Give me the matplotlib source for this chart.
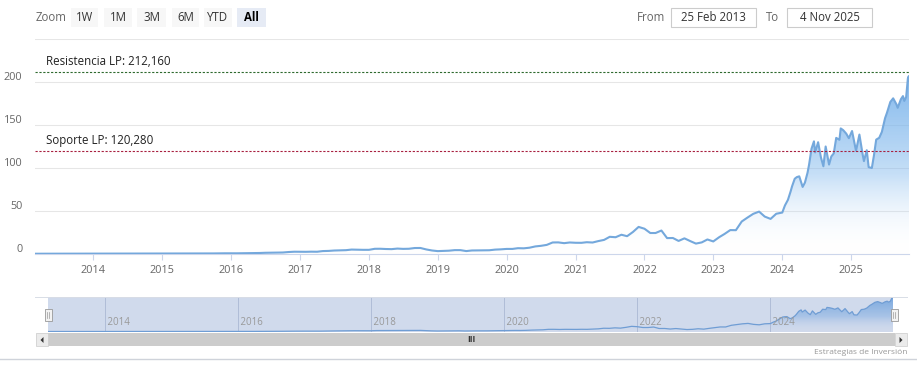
import numpy as np
import pandas as pd
import matplotlib
matplotlib.use("Agg")
import matplotlib.pyplot as plt
import matplotlib.dates as mdates
from matplotlib.colors import LinearSegmentedColormap
from matplotlib.patches import Rectangle, Polygon
from matplotlib.lines import Line2D

plt.rcParams['font.family'] = ['Open Sans', 'DejaVu Sans']

# ---- datos (cotización ajustada) ----
inicio = "2013-02-25"
fin = "2025-11-04"
precio_inicio = 0.30

# valores a primero de mes, mar-2013 .. dic-2023
precios_mensuales = [
    0.31, 0.32, 0.34, 0.35, 0.34, 0.35, 0.37, 0.38, 0.39, 0.40,                 # 2013
    0.40, 0.45, 0.44, 0.46, 0.46, 0.47, 0.45, 0.47, 0.46, 0.47, 0.49, 0.50,     # 2014
    0.50, 0.52, 0.53, 0.51, 0.54, 0.50, 0.48, 0.53, 0.60, 0.66, 0.78, 0.82,     # 2015
    0.75, 0.80, 0.88, 0.90, 1.15, 1.18, 1.42, 1.53, 1.70, 1.74, 2.30, 2.65,     # 2016
    2.60, 2.55, 2.70, 2.62, 3.40, 3.60, 4.05, 4.20, 4.45, 5.15, 5.00, 4.85,     # 2017
    4.85, 6.05, 6.10, 5.80, 5.65, 6.30, 5.95, 6.10, 6.95, 7.00, 5.30, 4.10,     # 2018
    3.35, 3.60, 3.85, 4.50, 4.50, 3.40, 4.10, 4.20, 4.20, 4.35, 5.10, 5.40,     # 2019
    5.90, 5.90, 6.75, 6.60, 7.30, 8.80, 9.50, 10.6, 13.4, 13.5, 12.6, 13.4,     # 2020
    13.05, 13.0, 13.7, 13.35, 15.0, 16.4, 20.0, 19.5, 22.4, 20.7, 25.6, 31.5,   # 2021
    29.4, 24.4, 24.4, 27.3, 18.5, 18.6, 15.2, 18.2, 15.0, 12.1, 13.5, 16.9,     # 2022
    14.6, 19.5, 23.2, 27.8, 27.7, 37.8, 42.3, 46.7, 49.3, 43.5, 40.8, 46.8,     # 2023
]
meses = pd.date_range("2013-03-01", "2023-12-01", freq="MS")

fechas_recientes = [
    "2024-01-02", "2024-01-16", "2024-02-01", "2024-02-15", "2024-02-23", "2024-03-08",
    "2024-03-19", "2024-04-01", "2024-04-19", "2024-05-01", "2024-05-15", "2024-05-23",
    "2024-06-05", "2024-06-18", "2024-06-24", "2024-07-10", "2024-07-25", "2024-08-07",
    "2024-08-19", "2024-09-06", "2024-09-18", "2024-10-01", "2024-10-14", "2024-10-31",
    "2024-11-07", "2024-11-20", "2024-12-06", "2024-12-20", "2025-01-06", "2025-01-27",
    "2025-02-14", "2025-03-03", "2025-03-10", "2025-03-25", "2025-04-04", "2025-04-21",
    "2025-05-02", "2025-05-14", "2025-05-30", "2025-06-13", "2025-06-30", "2025-07-10",
    "2025-07-28", "2025-08-12", "2025-08-29", "2025-09-05", "2025-09-22", "2025-10-03",
    "2025-10-10", "2025-10-20", "2025-10-29", "2025-11-03", "2025-11-04",
]
precios_recientes = [
    48.2, 56.4, 63.0, 72.6, 78.8, 87.5,
    89.4, 90.3, 78.0, 83.0, 94.6, 103.8,
    122.4, 131.0, 118.1, 130.0, 112.3, 102.0,
    125.0, 104.0, 113.4, 117.0, 135.0, 132.8,
    146.0, 144.0, 140.0, 134.7, 143.0, 120.0,
    138.9, 116.0, 108.0, 120.7, 101.0, 100.0,
    114.5, 133.0, 135.1, 141.9, 157.9, 164.1,
    176.8, 181.0, 174.2, 170.0, 180.0, 183.6,
    178.0, 182.6, 204.0, 206.9, 202.0,
]

resistencia = 212.160
soporte = 120.280
anios_eje = list(range(2014, 2026))
anios_navegador = [2014, 2016, 2018, 2020, 2022, 2024]
ticks_y = [0, 50, 100, 150, 200, 250]
botones = ["1W", "1M", "3M", "6M", "YTD", "All"]
desde_txt = "25 Feb 2013"
hasta_txt = "4 Nov 2025"

fechas = pd.to_datetime([inicio] + list(meses) + fechas_recientes)
precios = np.array([precio_inicio] + precios_mensuales + precios_recientes)
x = mdates.date2num(fechas)

W, H = 917, 374
fig = plt.figure(figsize=(W / 100, H / 100), dpi=100)


def caja(x0, y0, x1, y1):
    # pixeles (origen arriba-izquierda) -> fracción de figura
    return [x0 / W, 1 - y1 / H, (x1 - x0) / W, (y1 - y0) / H]


def fx(px):
    return px / W


def fy(py):
    return 1 - py / H


azul_borde = "#74a8dc"
cmap = LinearSegmentedColormap.from_list(
    "grad", [(0.0, (1, 1, 1, 0.0)),
             (0.45, (0.50, 0.72, 0.93, 0.45)),
             (1.0, (0.47, 0.70, 0.92, 0.92))])


def area_degradada(ax, xs, ys, base, tope):
    poly = ax.fill_between(xs, ys, base, facecolor="none", edgecolor="none")
    grad = np.linspace(0, 1, 256).reshape(-1, 1)
    im = ax.imshow(grad, cmap=cmap, aspect="auto", origin="lower",
                   extent=[xs[0], xs[-1], base, tope], zorder=1)
    im.set_clip_path(poly.get_paths()[0], transform=ax.transData)
    return im


# ---- gráfico principal ----
ax = fig.add_axes(caja(35, 39, 909, 254))
x0, x1 = mdates.date2num(pd.to_datetime(inicio)), mdates.date2num(pd.to_datetime(fin))
ax.set_xlim(x0, x1)
ax.set_ylim(0, 250)
area_degradada(ax, x, precios, 0, precios.max())
ax.plot(x, precios, color=azul_borde, lw=1.5, zorder=3, solid_joinstyle="round")

for s in ["top", "right", "left"]:
    ax.spines[s].set_visible(False)
ax.spines["bottom"].set_color("#ccd6eb")
ax.set_yticks(ticks_y)
ax.set_yticklabels([])
ax.tick_params(axis="y", length=0)
ax.grid(axis="y", color="#e6e6e6", lw=0.75)
ax.set_axisbelow(True)
for v in ticks_y[:-1]:
    ax.annotate(str(v), xy=(0, v), xycoords=("axes fraction", "data"),
                xytext=(-9, 3.5), textcoords="offset points",
                ha="right", va="center", fontsize=7.8, color="#666666")

ax.set_xticks([mdates.date2num(pd.Timestamp(f"{a}-01-01")) for a in anios_eje])
ax.set_xticklabels([str(a) for a in anios_eje], fontsize=7.8, color="#666666")
ax.tick_params(axis="x", length=4, color="#ccd6eb", pad=4)

ax.axhline(resistencia, color="#2e6a2e", lw=0.8, ls=(0, (2, 1.5)), zorder=4)
ax.axhline(soporte, color="#a8203f", lw=0.8, ls=(0, (2, 1.5)), zorder=4)
ax.annotate(f"Resistencia LP: {resistencia:,.3f}".replace(".", ","),
            xy=(0, resistencia), xycoords=("axes fraction", "data"),
            xytext=(8, 2.5), textcoords="offset points",
            fontsize=8.3, color="#222222", va="bottom")
ax.annotate(f"Soporte LP: {soporte:,.3f}".replace(".", ","),
            xy=(0, soporte), xycoords=("axes fraction", "data"),
            xytext=(8, 2.5), textcoords="offset points",
            fontsize=8.3, color="#222222", va="bottom")

# ---- navegador ----
nav = fig.add_axes(caja(48, 297, 893, 332))
nav.set_xlim(x0, x1)
nav.set_ylim(precios.min() - 3, precios.max() + 2)
nav.set_facecolor("none")
area_degradada(nav, x, precios, precios.min() - 3, precios.max())
nav.plot(x, precios, color=azul_borde, lw=0.9, zorder=3)
nav.axvspan(x0, x1, color=(0.4, 0.52, 0.76), alpha=0.3, lw=0, zorder=4)
for a in anios_navegador:
    xa = mdates.date2num(pd.Timestamp(f"{a}-01-01"))
    nav.axvline(xa, color="#c9cfdc", lw=0.6, zorder=2)
    nav.text(xa, 0.12, f" {a}", transform=nav.get_xaxis_transform(),
             fontsize=7, color="#999999", ha="left", va="bottom", zorder=5)
nav.set_xticks([])
nav.set_yticks([])
for s in nav.spines.values():
    s.set_visible(False)

fig.add_artist(Line2D([fx(35), fx(907)], [fy(297), fy(297)], color="#d8dde6", lw=0.7))
# asas
for hx in (48, 894):
    fig.add_artist(Rectangle((fx(hx - 3), fy(321)), 7 / W, 12 / H,
                             facecolor="#f2f2f2", edgecolor="#999999", lw=0.6))
    fig.add_artist(Line2D([fx(hx - 0.8)] * 2, [fy(318), fy(312)], color="#999999", lw=0.5))
    fig.add_artist(Line2D([fx(hx + 1.2)] * 2, [fy(318), fy(312)], color="#999999", lw=0.5))

# barra de desplazamiento
fig.add_artist(Rectangle((fx(36), fy(346)), 871 / W, 13 / H,
                         facecolor="#f2f2f2", edgecolor="none"))
fig.add_artist(Rectangle((fx(48), fy(346)), 847 / W, 13 / H,
                         facecolor="#cccccc", edgecolor="none"))
for bx, d in ((36, -1), (895, 1)):
    fig.add_artist(Rectangle((fx(bx), fy(346)), 12 / W, 13 / H,
                             facecolor="#ebebeb", edgecolor="#cccccc", lw=0.5))
    cx = bx + 6
    fig.add_artist(Polygon([(fx(cx - 1.5 * d), fy(337)), (fx(cx - 1.5 * d), fy(343)),
                            (fx(cx + 1.5 * d), fy(340))], closed=True,
                           facecolor="#333333", edgecolor="none"))
fig.text(fx(471), fy(339.5), "III", fontsize=6, color="#333333",
         ha="center", va="center", fontweight="bold")

fig.text(fx(907), fy(352), "Estrategias de Inversión", fontsize=6,
         color="#999999", ha="right", va="center")
fig.add_artist(Line2D([0, 1], [fy(358.5), fy(358.5)], color="#cfd3da", lw=1))

# ---- selector de rango ----
fig.text(fx(36), fy(17.5), "Zoom", fontsize=8.3, color="#666666", va="center")
pos_botones = [(71, 98), (104, 132), (137, 166), (172, 199), (204, 232), (237, 266)]
for b, (bx0, bx1) in zip(botones, pos_botones):
    activo = b == "All"
    fig.add_artist(Rectangle((fx(bx0), fy(27)), (bx1 - bx0) / W, 19 / H,
                             facecolor="#e6ebf5" if activo else "#f7f7f7",
                             edgecolor="none"))
    fig.text(fx((bx0 + bx1) / 2), fy(17.5), b, fontsize=8.3,
             color="#000000" if activo else "#333333",
             fontweight="bold" if activo else "normal",
             ha="center", va="center")

fig.text(fx(637), fy(17.5), "From", fontsize=8.3, color="#666666", va="center")
fig.text(fx(766), fy(17.5), "To", fontsize=8.3, color="#666666", va="center")
for (bx0, bx1), t in (((671, 756), desde_txt), ((787, 872), hasta_txt)):
    fig.add_artist(Rectangle((fx(bx0), fy(27)), (bx1 - bx0) / W, 19 / H,
                             facecolor="white", edgecolor="#cccccc", lw=0.8))
    fig.text(fx((bx0 + bx1) / 2), fy(17.5), t, fontsize=8.3, color="#333333",
             ha="center", va="center")

fig.savefig("out.png", dpi=100)
